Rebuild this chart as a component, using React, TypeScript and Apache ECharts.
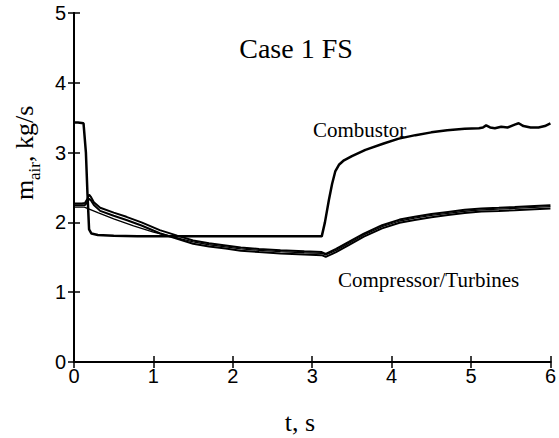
import React, { useEffect, useRef } from "react";
import * as echarts from "echarts";

// Combustor air mass flow
const combT = [0, 0.05, 0.12, 0.15, 0.17, 0.19, 0.22, 0.3, 0.5, 0.8, 1.2, 1.6, 2.0, 2.5, 3.0, 3.12, 3.16, 3.21, 3.25, 3.29, 3.34, 3.4, 3.5, 3.67, 3.9, 4.09, 4.3, 4.5, 4.7, 4.92, 5.1, 5.15, 5.19, 5.24, 5.3, 5.38, 5.46, 5.55, 5.6, 5.66, 5.75, 5.85, 5.93, 6.0];
const combV = [3.43, 3.43, 3.42, 3.0, 2.4, 1.9, 1.84, 1.82, 1.81, 1.8, 1.8, 1.8, 1.8, 1.8, 1.8, 1.8, 2.0, 2.32, 2.55, 2.73, 2.83, 2.89, 2.95, 3.04, 3.13, 3.2, 3.25, 3.29, 3.32, 3.34, 3.35, 3.36, 3.39, 3.36, 3.35, 3.37, 3.36, 3.4, 3.42, 3.38, 3.36, 3.36, 3.38, 3.42];

// Compressor / turbines (two close lines with spike)
const compT = [0, 0.1, 0.14, 0.17, 0.19, 0.21, 0.25, 0.33, 0.5, 0.66, 0.85, 1.08, 1.3, 1.5, 1.7, 1.91, 2.1, 2.33, 2.6, 2.9, 3.12, 3.17, 3.3, 3.46, 3.65, 3.88, 4.1, 4.29, 4.5, 4.71, 4.92, 5.13, 5.35, 5.55, 5.8, 6.0];
const compAV = [2.27, 2.27, 2.28, 2.34, 2.4, 2.37, 2.29, 2.21, 2.14, 2.08, 2.0, 1.89, 1.81, 1.74, 1.7, 1.67, 1.64, 1.62, 1.6, 1.585, 1.575, 1.55, 1.62, 1.72, 1.84, 1.96, 2.04, 2.08, 2.12, 2.15, 2.18, 2.2, 2.21, 2.22, 2.235, 2.245];
const compBV = [2.245, 2.245, 2.25, 2.29, 2.34, 2.32, 2.25, 2.165, 2.095, 2.035, 1.955, 1.845, 1.765, 1.695, 1.655, 1.625, 1.595, 1.575, 1.555, 1.54, 1.53, 1.505, 1.575, 1.675, 1.795, 1.915, 1.995, 2.035, 2.075, 2.105, 2.135, 2.155, 2.165, 2.175, 2.19, 2.2];

// Thin turbine line
const turbT = [0, 0.13, 0.3, 0.5, 0.75, 1.0, 1.3, 1.5, 1.7, 1.91, 2.1, 2.33, 2.6, 2.9, 3.12, 3.17, 3.3, 3.46, 3.65, 3.88, 4.1, 4.29, 4.5, 4.71, 4.92, 5.13, 5.35, 5.55, 5.8, 6.0];
const turbV = [2.22, 2.22, 2.14, 2.05, 1.95, 1.86, 1.78, 1.72, 1.68, 1.65, 1.62, 1.6, 1.58, 1.565, 1.555, 1.535, 1.6, 1.7, 1.82, 1.94, 2.02, 2.06, 2.1, 2.13, 2.16, 2.18, 2.19, 2.2, 2.215, 2.225];

const xTicks = [0, 6, 1];
const yTicks = [0, 5, 1];

const zip = (t: number[], v: number[]) => t.map((x, i) => [x, v[i]]);

export default function App() {
  const ref = useRef<HTMLDivElement>(null);
  useEffect(() => {
    const chart = echarts.init(ref.current!, null, { renderer: "svg" });
    const sans = "'Liberation Sans', Arial, sans-serif";
    const serif = "'Liberation Serif', 'Times New Roman', serif";
    const axisCommon = {
      axisLine: { show: true, lineStyle: { color: "#000", width: 2 } },
      axisTick: { show: true, inside: true, length: 6, lineStyle: { color: "#000", width: 1.5 } },
      splitLine: { show: false },
    };
    chart.setOption({
      animation: false,
      backgroundColor: "#fff",
      grid: { left: 74, top: 13, width: 479, height: 349, containLabel: false },
      xAxis: [
        {
          type: "value", min: xTicks[0], max: xTicks[1], interval: xTicks[2], position: "bottom",
          ...axisCommon,
          axisLabel: { color: "#000", fontSize: 20, fontFamily: sans, margin: 4 },
        },
        {
          type: "value", min: xTicks[0], max: xTicks[1], interval: xTicks[2], position: "top",
          ...axisCommon,
          axisLabel: { show: false },
        },
      ],
      yAxis: [
        {
          type: "value", min: yTicks[0], max: yTicks[1], interval: yTicks[2], position: "left",
          ...axisCommon,
          axisLabel: { color: "#000", fontSize: 20, fontFamily: sans, margin: 8 },
        },
        {
          type: "value", min: yTicks[0], max: yTicks[1], interval: yTicks[2], position: "right",
          ...axisCommon,
          axisLabel: { show: false },
        },
      ],
      series: [
        { name: "Combustor", type: "line", data: zip(combT, combV), showSymbol: false, lineStyle: { color: "#000", width: 2.5 } },
        { name: "Compressor", type: "line", data: zip(compT, compAV), showSymbol: false, lineStyle: { color: "#000", width: 2 } },
        { name: "Turbine 1", type: "line", data: zip(compT, compBV), showSymbol: false, lineStyle: { color: "#000", width: 2 } },
        { name: "Turbine 2", type: "line", data: zip(turbT, turbV), showSymbol: false, lineStyle: { color: "#000", width: 1.3 } },
      ],
      graphic: [
        { type: "text", x: 296, y: 48, style: { text: "Case 1 FS", font: `28px ${serif}`, fill: "#000", align: "center", verticalAlign: "middle" } },
        { type: "text", x: 313, y: 130, style: { text: "Combustor", font: `21px ${serif}`, fill: "#000", align: "left", verticalAlign: "middle" } },
        { type: "text", x: 338, y: 280, style: { text: "Compressor/Turbines", font: `21px ${serif}`, fill: "#000", align: "left", verticalAlign: "middle" } },
        { type: "text", x: 300, y: 422, style: { text: "t, s", font: `26px ${serif}`, fill: "#000", align: "center", verticalAlign: "middle" } },
        {
          type: "group", x: 37, y: 200, rotation: Math.PI / 2,
          children: [
            { type: "text", x: 0, y: 0, style: { text: "m", font: `26px ${serif}`, fill: "#000", align: "left", verticalAlign: "bottom" } },
            { type: "text", x: 20, y: 6, style: { text: "air", font: `17px ${serif}`, fill: "#000", align: "left", verticalAlign: "bottom" } },
            { type: "text", x: 38, y: 0, style: { text: ", kg/s", font: `26px ${serif}`, fill: "#000", align: "left", verticalAlign: "bottom" } },
          ],
        },
      ],
    });
    return () => chart.dispose();
  }, []);
  return <div ref={ref} style={{ width: 559, height: 438, position: "absolute", left: 0, top: 0 }} />;
}
